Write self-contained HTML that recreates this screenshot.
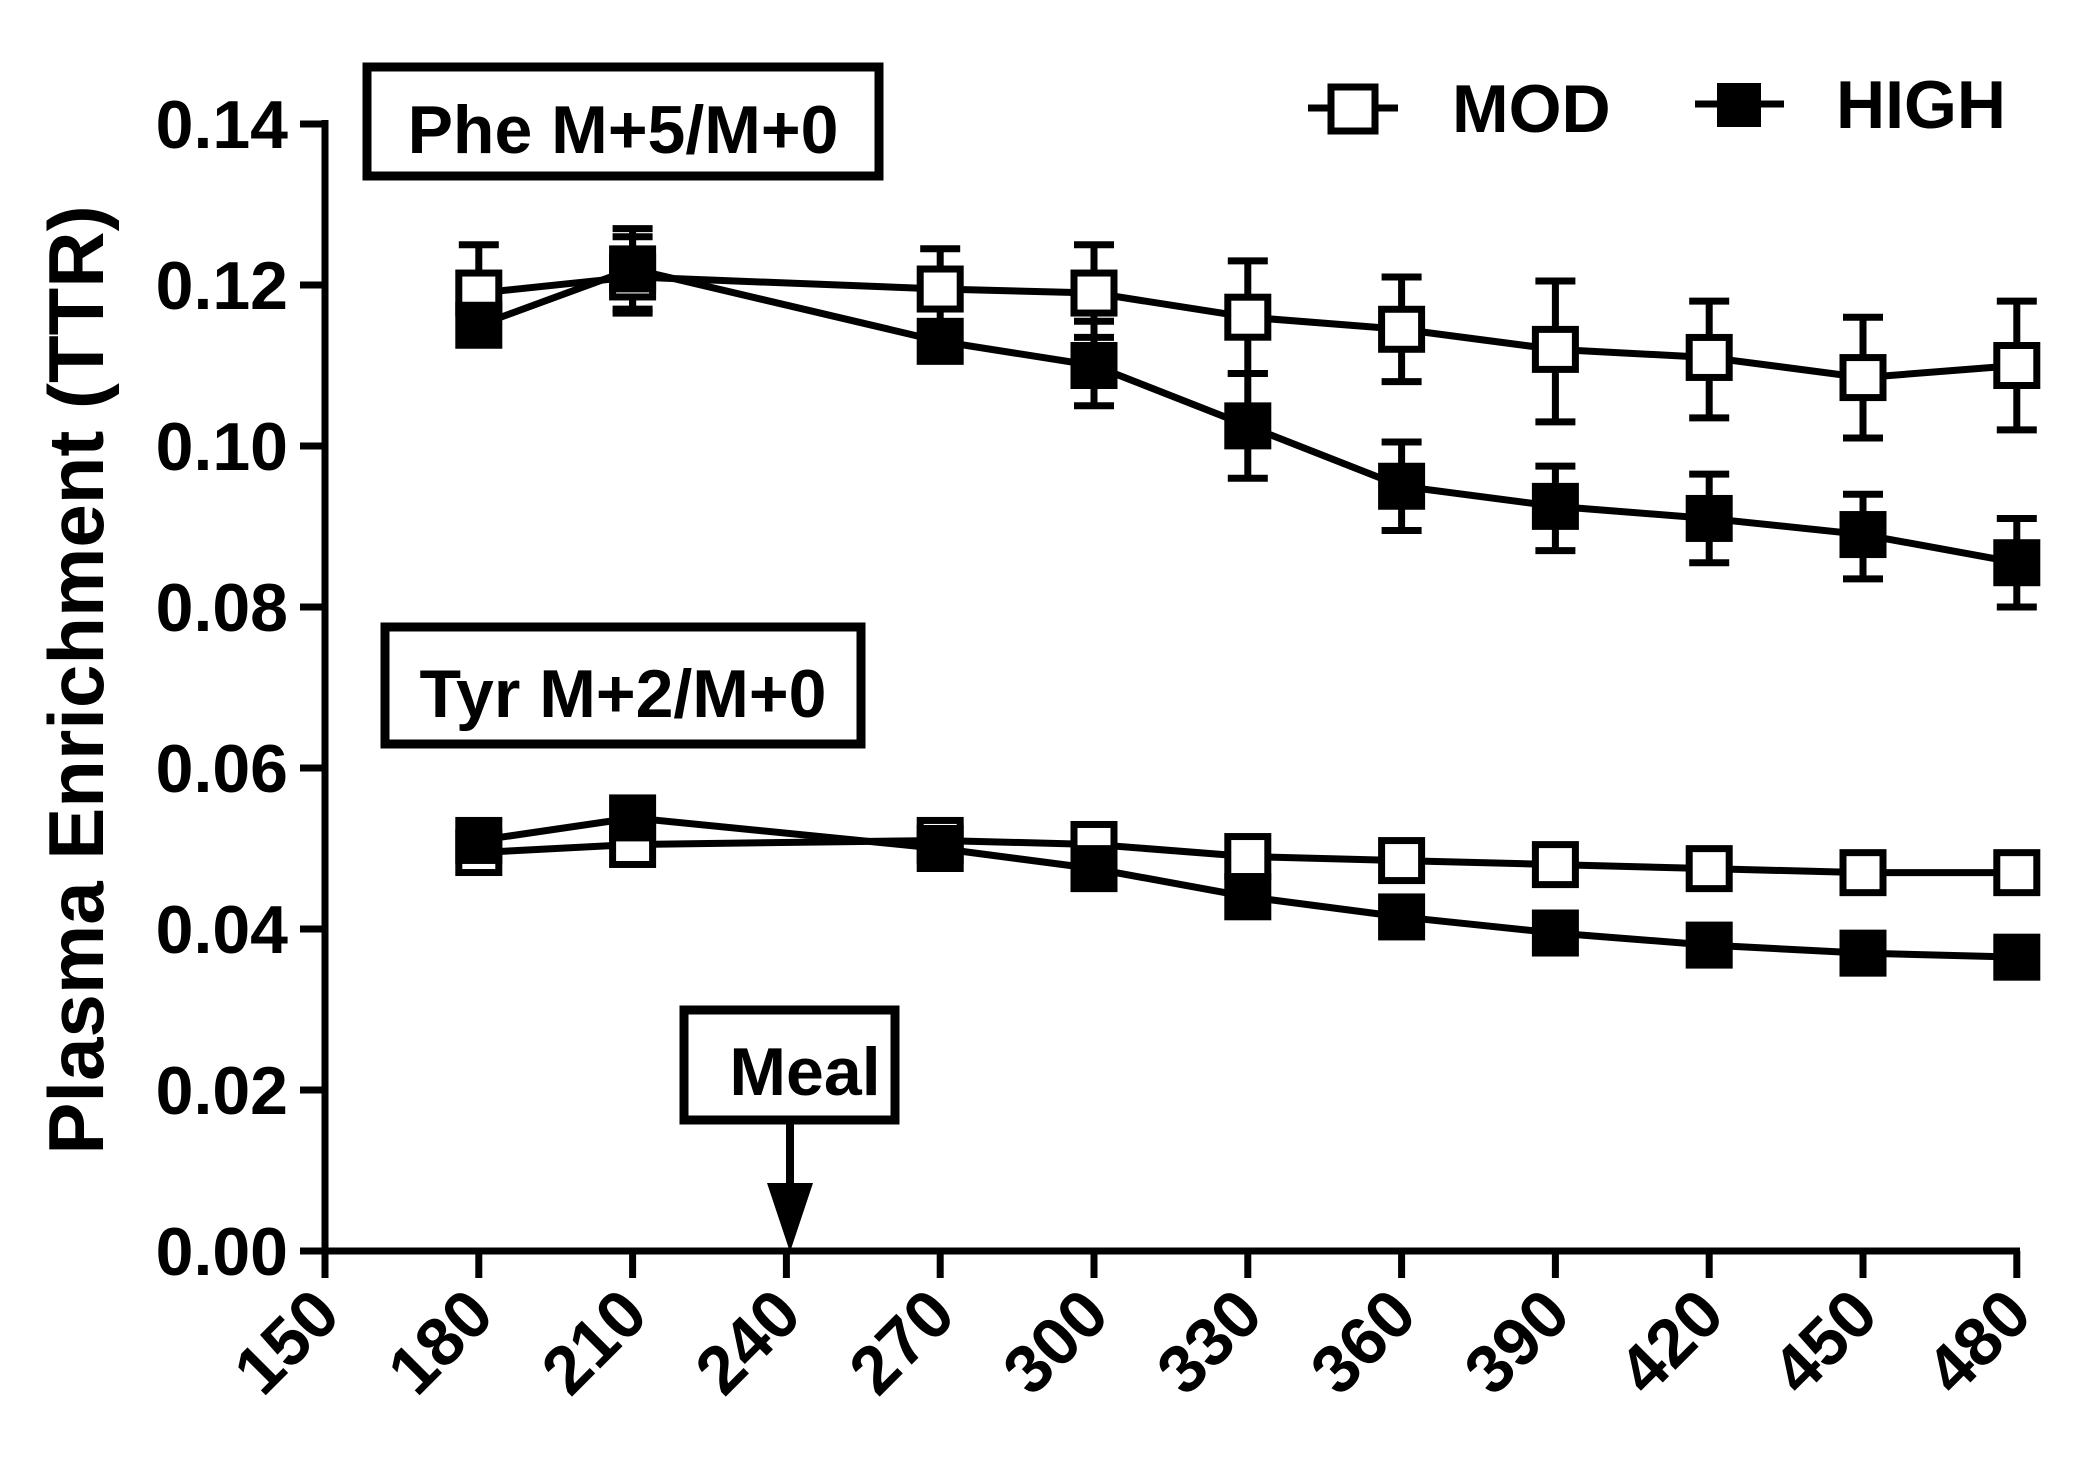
<!DOCTYPE html>
<html><head><meta charset="utf-8"><style>
html,body{margin:0;padding:0;background:#fff;}
svg{display:block;}
text{font-family:"Liberation Sans Narrow","Liberation Sans",sans-serif;font-weight:bold;fill:#000;}
</style></head><body>
<svg id="s" width="2091" height="1478" viewBox="0 0 2091 1478" xmlns="http://www.w3.org/2000/svg">
<rect width="2091" height="1478" fill="#fff"/>
<g id="g"></g>
<line x1="325" y1="120" x2="325" y2="1255" stroke="#000" stroke-width="7"/>
<line x1="322" y1="1251" x2="2020" y2="1251" stroke="#000" stroke-width="7"/>
<g font-size="68" text-anchor="end">
<text x="288" y="148">0.14</text>
<text x="288" y="309">0.12</text>
<text x="288" y="470">0.10</text>
<text x="288" y="631">0.08</text>
<text x="288" y="792">0.06</text>
<text x="288" y="953">0.04</text>
<text x="288" y="1114">0.02</text>
<text x="288" y="1275">0.00</text>
</g>
<text transform="translate(103,680) rotate(-90)" text-anchor="middle" font-size="78" style="font-family:'Liberation Sans',sans-serif">Plasma Enrichment (TTR)</text>
<rect x="367" y="67" width="512" height="109" fill="none" stroke="#000" stroke-width="9"/>
<text x="623" y="153" text-anchor="middle" font-size="68">Phe M+5/M+0</text>
<rect x="385" y="627" width="476" height="117" fill="none" stroke="#000" stroke-width="9"/>
<text x="623" y="717" text-anchor="middle" font-size="68">Tyr M+2/M+0</text>
<rect x="684" y="1010" width="211" height="110" fill="none" stroke="#000" stroke-width="9"/>
<text x="805" y="1095" text-anchor="middle" font-size="68">Meal</text>
<line x1="790" y1="1120" x2="790" y2="1190" stroke="#000" stroke-width="8"/>
<polygon points="767,1183 813,1183 790,1252" fill="#000"/>
<line x1="1308" y1="108" x2="1398" y2="108" stroke="#000" stroke-width="7"/>
<rect x="1331" y="87" width="44" height="44" fill="#fff" stroke="#000" stroke-width="7"/>
<text x="1452" y="132" font-size="68">MOD</text>
<line x1="1695" y1="104" x2="1784" y2="104" stroke="#000" stroke-width="7"/>
<rect x="1717" y="83" width="44" height="44" fill="#000"/>
<text x="1836" y="128" font-size="68">HIGH</text>
</svg>
<script>
var g=document.getElementById('g'),NS='http://www.w3.org/2000/svg';
function X(t){return 325+(t-150)/30*153.8;}
function Y(v){return 1251-v/0.02*161;}
function el(n,a){var e=document.createElementNS(NS,n);for(var k in a)e.setAttribute(k,a[k]);return e;}
var T=[180,210,270,300,330,360,390,420,450,480];
var axes=document.getElementById('s');
for(var i=0;i<=7;i++){var y=Y(i*0.02);axes.appendChild(el('line',{x1:300,y1:y,x2:325,y2:y,stroke:'#000','stroke-width':7}));}
var XT=[150,180,210,240,270,300,330,360,390,420,450,480];
XT.forEach(function(t){var x=X(t);axes.appendChild(el('line',{x1:x,y1:1251,x2:x,y2:1278,stroke:'#000','stroke-width':7}));
var tx=el('text',{transform:'translate('+(x+18)+',1318) rotate(-45)','text-anchor':'end','font-size':68});tx.textContent=t;axes.appendChild(tx);});
var series=[
 {f:'#fff',v:[0.119,0.121,0.1195,0.119,0.116,0.1145,0.112,0.111,0.1085,0.110],
  hi:[0.125,0.126,0.1245,0.125,0.123,0.121,0.1205,0.118,0.116,0.118],
  lo:[0.113,0.117,0.1145,0.1135,0.109,0.108,0.103,0.1035,0.101,0.102]},
 {f:'#000',v:[0.115,0.122,0.113,0.110,0.1025,0.095,0.0925,0.091,0.089,0.0855],
  hi:[0.115,0.127,0.113,0.1155,0.109,0.1005,0.0975,0.0965,0.094,0.091],
  lo:[0.115,0.1165,0.113,0.105,0.096,0.0895,0.087,0.0855,0.0835,0.080]},
 {f:'#fff',v:[0.0495,0.0505,0.051,0.0505,0.049,0.0485,0.048,0.0475,0.047,0.047]},
 {f:'#000',v:[0.051,0.0538,0.050,0.0475,0.044,0.0415,0.0395,0.038,0.037,0.0365]}
];
series.forEach(function(s){
 if(s.hi)T.forEach(function(t,i){var x=X(t);
  g.appendChild(el('line',{x1:x,y1:Y(s.hi[i]),x2:x,y2:Y(s.lo[i]),stroke:'#000','stroke-width':7}));
  [s.hi[i],s.lo[i]].forEach(function(v){g.appendChild(el('line',{x1:x-20,y1:Y(v),x2:x+20,y2:Y(v),stroke:'#000','stroke-width':7}));});});
 g.appendChild(el('polyline',{points:T.map(function(t,i){return X(t)+','+Y(s.v[i]);}).join(' '),fill:'none',stroke:'#000','stroke-width':7}));
});
series.forEach(function(s){T.forEach(function(t,i){var x=X(t),y=Y(s.v[i]);
 g.appendChild(el('rect',{x:x-20,y:y-20,width:40,height:40,fill:s.f,stroke:'#000','stroke-width':7}));});});
</script>
</body></html>
